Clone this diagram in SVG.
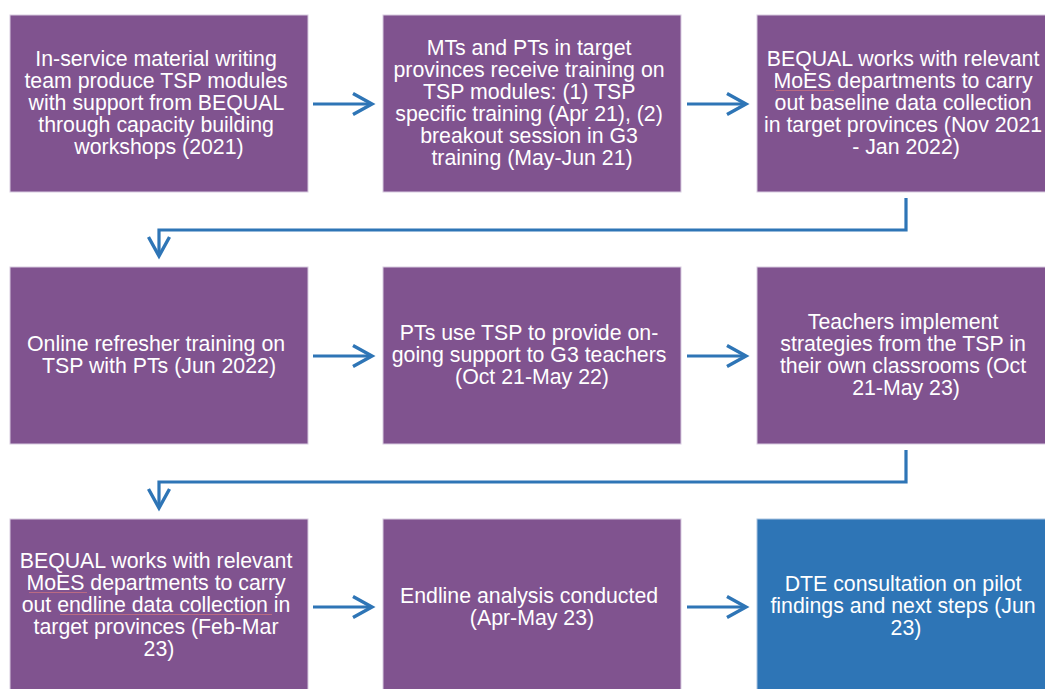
<svg xmlns="http://www.w3.org/2000/svg" width="1045" height="689" viewBox="0 0 1045 689">
  <style>
    .box { fill: #80538F; stroke: #d8cce0; stroke-width: 1; }
    .box.final { fill: #2E75B6; stroke: #a9c4e0; }
    .lbl { font-family: "Liberation Sans", Arial, sans-serif; font-size: 21.3px; fill: #ffffff; text-anchor: middle; }
    .conn { fill: none; stroke: #2E75B6; stroke-width: 3.2; stroke-linejoin: miter; }
    .spell { stroke: #c9707f; stroke-width: 1; opacity: 0.8; }
  </style>
  <defs>
    <marker id="chev" viewBox="-22 -13 28 26" refX="0" refY="0" markerWidth="28" markerHeight="26" markerUnits="userSpaceOnUse" orient="auto" overflow="visible">
      <path d="M-19,-10.5 L0,0 L-19,10.5" fill="none" stroke="#2E75B6" stroke-width="3.4"/>
    </marker>
  </defs>

  <!-- connectors -->
  <g id="connectors">
    <line class="conn" x1="313" y1="104" x2="372" y2="104" marker-end="url(#chev)"/>
    <line class="conn" x1="687" y1="104" x2="746" y2="104" marker-end="url(#chev)"/>
    <path class="conn" d="M906 198 V230 H159 V256" marker-end="url(#chev)"/>
    <line class="conn" x1="313" y1="356" x2="372" y2="356" marker-end="url(#chev)"/>
    <line class="conn" x1="687" y1="356" x2="746" y2="356" marker-end="url(#chev)"/>
    <path class="conn" d="M906 450 V482 H159 V508" marker-end="url(#chev)"/>
    <line class="conn" x1="313" y1="607" x2="372" y2="607" marker-end="url(#chev)"/>
    <line class="conn" x1="687" y1="607" x2="746" y2="607" marker-end="url(#chev)"/>
  </g>

  <!-- row 1 -->
  <g id="n1">
    <rect class="box" x="10" y="15" width="298" height="177"/>
    <text class="lbl" x="159" y="66">
      <tspan x="159">In-service material writing</tspan>
      <tspan x="159" dy="22">team produce TSP modules</tspan>
      <tspan x="159" dy="22">with support from BEQUAL</tspan>
      <tspan x="159" dy="22">through capacity building</tspan>
      <tspan x="159" dy="22">workshops (2021)</tspan>
    </text>
  </g>
  <g id="n2">
    <rect class="box" x="383" y="15" width="298" height="177"/>
    <text class="lbl" x="532" y="55">
      <tspan x="532">MTs and PTs in target</tspan>
      <tspan x="532" dy="22">provinces receive training on</tspan>
      <tspan x="532" dy="22">TSP modules: (1) TSP</tspan>
      <tspan x="532" dy="22">specific training (Apr 21), (2)</tspan>
      <tspan x="532" dy="22">breakout session in G3</tspan>
      <tspan x="532" dy="22">training (May-Jun 21)</tspan>
    </text>
  </g>
  <g id="n3">
    <rect class="box" x="757" y="15" width="298" height="177"/>
    <text class="lbl" x="906" y="66">
      <tspan x="906">BEQUAL works with relevant</tspan>
      <tspan x="906" dy="22">MoES departments to carry</tspan>
      <tspan x="906" dy="22">out baseline data collection</tspan>
      <tspan x="906" dy="22">in target provinces (Nov 2021</tspan>
      <tspan x="906" dy="22">- Jan 2022)</tspan>
    </text>
    <line class="spell" x1="776" y1="90.5" x2="834" y2="90.5"/>
  </g>

  <!-- row 2 -->
  <g id="n4">
    <rect class="box" x="10" y="267" width="298" height="177"/>
    <text class="lbl" x="159" y="351">
      <tspan x="159">Online refresher training on</tspan>
      <tspan x="159" dy="22">TSP with PTs (Jun 2022)</tspan>
    </text>
  </g>
  <g id="n5">
    <rect class="box" x="383" y="267" width="298" height="177"/>
    <text class="lbl" x="532" y="340">
      <tspan x="532">PTs use TSP to provide on-</tspan>
      <tspan x="532" dy="22">going support to G3 teachers</tspan>
      <tspan x="532" dy="22">(Oct 21-May 22)</tspan>
    </text>
  </g>
  <g id="n6">
    <rect class="box" x="757" y="267" width="298" height="177"/>
    <text class="lbl" x="906" y="329">
      <tspan x="906">Teachers implement</tspan>
      <tspan x="906" dy="22">strategies from the TSP in</tspan>
      <tspan x="906" dy="22">their own classrooms (Oct</tspan>
      <tspan x="906" dy="22">21-May 23)</tspan>
    </text>
  </g>

  <!-- row 3 -->
  <g id="n7">
    <rect class="box" x="10" y="519" width="298" height="177"/>
    <text class="lbl" x="159" y="568">
      <tspan x="159">BEQUAL works with relevant</tspan>
      <tspan x="159" dy="22">MoES departments to carry</tspan>
      <tspan x="159" dy="22">out endline data collection in</tspan>
      <tspan x="159" dy="22">target provinces (Feb-Mar</tspan>
      <tspan x="159" dy="22">23)</tspan>
    </text>
    <line class="spell" x1="29" y1="592.5" x2="87" y2="592.5"/>
    <line class="spell" x1="60" y1="614.5" x2="272" y2="614.5"/>
  </g>
  <g id="n8">
    <rect class="box" x="383" y="519" width="298" height="177"/>
    <text class="lbl" x="532" y="603">
      <tspan x="532">Endline analysis conducted</tspan>
      <tspan x="532" dy="22">(Apr-May 23)</tspan>
    </text>
  </g>
  <g id="n9">
    <rect class="box final" x="757" y="519" width="298" height="177"/>
    <text class="lbl" x="906" y="591">
      <tspan x="906">DTE consultation on pilot</tspan>
      <tspan x="906" dy="22">findings and next steps (Jun</tspan>
      <tspan x="906" dy="22">23)</tspan>
    </text>
  </g>
</svg>
